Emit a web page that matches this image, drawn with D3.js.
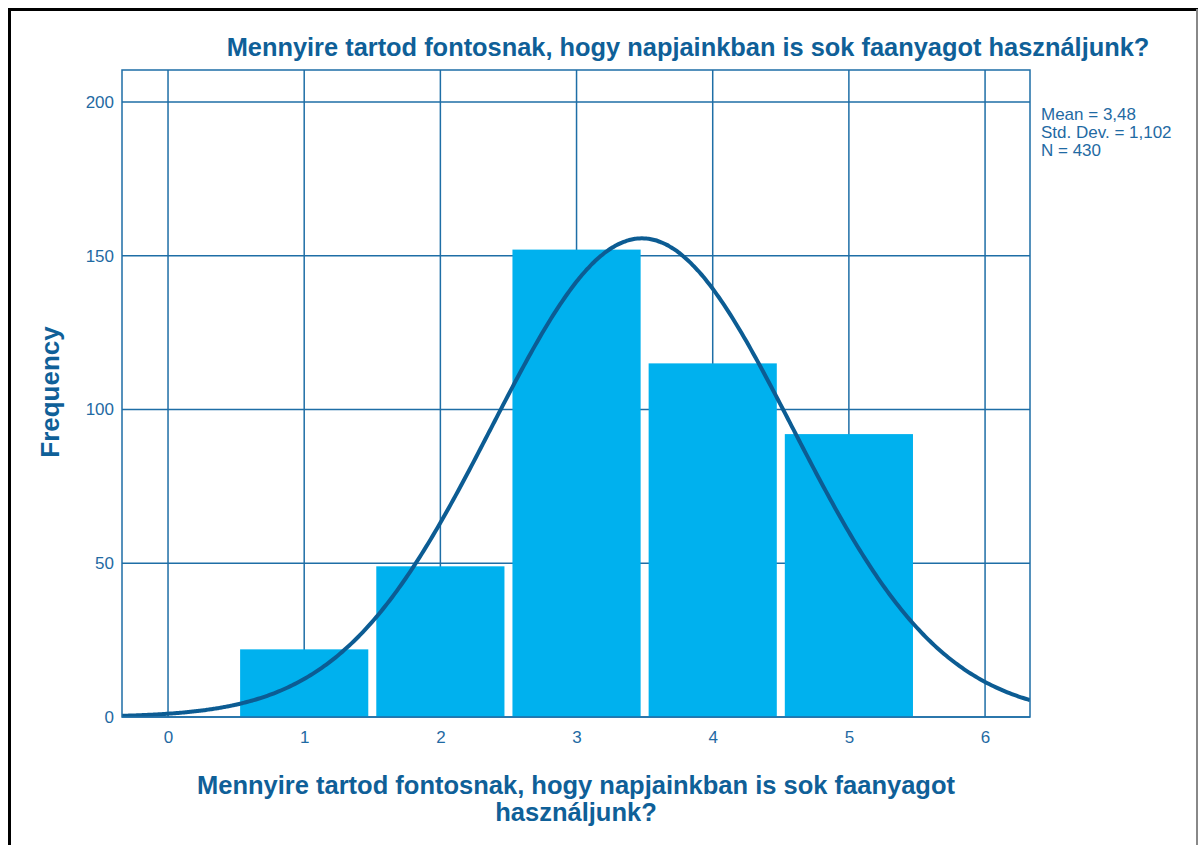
<!DOCTYPE html>
<html>
<head>
<meta charset="utf-8">
<script src="https://cdn.jsdelivr.net/npm/d3@7/dist/d3.min.js"></script>
<style>
  html, body { margin: 0; padding: 0; background: #fff; }
  svg { display: block; font-family: "Liberation Sans", Arial, sans-serif; }
</style>
</head>
<body>
<svg id="chart" width="1199" height="845"></svg>
<script>
// Histogram of answers (1–5) with fitted normal curve
const categories = [1, 2, 3, 4, 5];
const frequencies = [22, 49, 152, 115, 92];
const xTicks = [0, 1, 2, 3, 4, 5, 6];
const yTicks = [0, 50, 100, 150, 200];
const statsLines = ["Mean = 3,48", "Std. Dev. = 1,102", "N = 430"];
const mean = 3.48, stdDev = 1.102, nTotal = 430;
const titleText = "Mennyire tartod fontosnak, hogy napjainkban is sok faanyagot használjunk?";
const xTitleLines = ["Mennyire tartod fontosnak, hogy napjainkban is sok faanyagot", "használjunk?"];
const yTitle = "Frequency";

const svg = d3.select("#chart");
const W = 1199, H = 845;
const plot = { left: 122, top: 70, right: 1030, bottom: 717 };

const gridColor = "#1e6ea6";
const textColor = "#1f6aa3";
const titleColor = "#0f6098";
const barColor = "#00b1ee";
const curveColor = "#0c5c93";

// outer frame
svg.append("line").attr("x1", 8).attr("x2", 1198).attr("y1", 9.5).attr("y2", 9.5)
  .attr("stroke", "#000").attr("stroke-width", 3);
svg.append("line").attr("x1", 9.5).attr("x2", 9.5).attr("y1", 8).attr("y2", H)
  .attr("stroke", "#000").attr("stroke-width", 3);
svg.append("line").attr("x1", 1197).attr("x2", 1197).attr("y1", 9).attr("y2", H)
  .attr("stroke", "#888").attr("stroke-width", 2);

const x = d3.scaleLinear().domain([-0.338, 6.33]).range([plot.left, plot.right]);
const y = d3.scaleLinear().domain([0, 200]).range([plot.bottom, 102]);

// grid lines
const grid = svg.append("g").attr("stroke", gridColor).attr("stroke-width", 1.5);
xTicks.forEach(t => {
  grid.append("line").attr("x1", x(t)).attr("x2", x(t))
    .attr("y1", plot.top).attr("y2", plot.bottom);
});
yTicks.forEach(t => {
  grid.append("line").attr("x1", plot.left).attr("x2", plot.right)
    .attr("y1", y(t)).attr("y2", y(t));
});

// bars
const gap = 4;
svg.append("g").selectAll("rect").data(categories).join("rect")
  .attr("x", (d) => x(d - 0.5) + gap)
  .attr("width", (d) => x(d + 0.5) - x(d - 0.5) - 2 * gap)
  .attr("y", (d, i) => y(frequencies[i]))
  .attr("height", (d, i) => y(0) - y(frequencies[i]))
  .attr("fill", barColor);

// normal curve scaled to counts (bin width = 1)
const pdf = v => nTotal / (stdDev * Math.sqrt(2 * Math.PI)) * Math.exp(-0.5 * ((v - mean) / stdDev) ** 2);
const [x0, x1] = x.domain();
const curvePts = d3.range(0, 401).map(i => {
  const v = x0 + (x1 - x0) * i / 400;
  return [v, pdf(v)];
});
svg.append("defs").append("clipPath").attr("id", "plotClip")
  .append("rect").attr("x", plot.left).attr("y", plot.top)
  .attr("width", plot.right - plot.left).attr("height", plot.bottom - plot.top);
svg.append("path").datum(curvePts)
  .attr("clip-path", "url(#plotClip)")
  .attr("fill", "none").attr("stroke", curveColor).attr("stroke-width", 4)
  .attr("d", d3.line().x(d => x(d[0])).y(d => y(d[1])).curve(d3.curveBasis));

// plot frame
svg.append("rect").attr("x", plot.left).attr("y", plot.top)
  .attr("width", plot.right - plot.left).attr("height", plot.bottom - plot.top)
  .attr("fill", "none").attr("stroke", gridColor).attr("stroke-width", 1.5);

// axes labels (built with d3 axes, lines hidden)
const xAxis = svg.append("g").attr("transform", `translate(0,${plot.bottom})`)
  .call(d3.axisBottom(x).tickValues(xTicks).tickFormat(d3.format("d")).tickSize(0).tickPadding(14));
const yAxis = svg.append("g").attr("transform", `translate(${plot.left},0)`)
  .call(d3.axisLeft(y).tickValues(yTicks).tickFormat(d3.format("d")).tickSize(0).tickPadding(8));
[xAxis, yAxis].forEach(g => {
  g.select(".domain").remove();
  g.selectAll("text").attr("fill", textColor)
    .style("font-size", "17px").style("font-family", "'Liberation Sans', Arial, sans-serif");
});

// stats box text
svg.append("text").attr("x", 1041).attr("y", 120)
  .attr("fill", textColor).style("font-size", "17px")
  .selectAll("tspan").data(statsLines).join("tspan")
  .attr("x", 1041).attr("dy", (d, i) => i === 0 ? 0 : 18).text(d => d);

// title
svg.append("text").attr("x", 688).attr("y", 56).attr("text-anchor", "middle")
  .attr("fill", titleColor).style("font-size", "25.4px").style("font-weight", "bold")
  .text(titleText);

// y axis title
svg.append("text").attr("transform", "translate(59,392) rotate(-90)")
  .attr("text-anchor", "middle").attr("fill", titleColor)
  .style("font-size", "26px").style("font-weight", "bold").text(yTitle);

// x axis title
svg.append("text").attr("text-anchor", "middle").attr("fill", titleColor)
  .style("font-size", "25.5px").style("font-weight", "bold")
  .selectAll("tspan").data(xTitleLines).join("tspan")
  .attr("x", 576).attr("y", (d, i) => 794 + i * 27).text(d => d);
</script>
</body>
</html>
